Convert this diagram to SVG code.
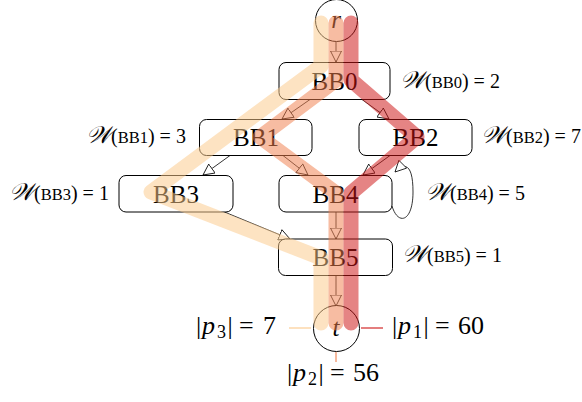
<svg xmlns="http://www.w3.org/2000/svg" width="582" height="402" viewBox="0 0 582 402">
<style>
.node{fill:#fff;stroke:#000;stroke-width:1}
.nt{font-family:"Liberation Serif","DejaVu Serif",serif;font-size:25px;text-anchor:middle;fill:#000}
.it{font-style:italic}
.edge{fill:none;stroke:#000;stroke-width:0.8;marker-end:url(#ah)}
.lab{font-family:"Liberation Serif","DejaVu Serif",serif;font-size:20px;fill:#000}
.sc{font-size:16.5px}
.w{font-size:24px;font-style:italic}
.band{fill:none;stroke-width:15;stroke-linecap:round;stroke-linejoin:round;opacity:0.52}
.p3{stroke:#fbc98b}
.p2{stroke:#ef7f4d}
.p1{stroke:#cd1414}
.stub{stroke-width:2;opacity:0.55;fill:none}
.pl{font-family:"Liberation Serif","DejaVu Serif",serif;font-size:26px;fill:#000}
.sub{font-size:18px}
</style>
<defs>
<marker id="ah" viewBox="0 0 12 12" refX="11.5" refY="6" markerWidth="12" markerHeight="12" markerUnits="userSpaceOnUse" orient="auto">
<path d="M0.5,0.5 L11.5,6 L0.5,11.5 Z" fill="#fff" stroke="#000" stroke-width="0.8"/>
</marker>
</defs>
<g id="connectors">
<path class="edge" d="M336,42 L336,62"/>
<path class="edge" d="M310,99.5 L282,119"/>
<path class="edge" d="M362,99.5 L389,119"/>
<path class="edge" d="M230,155.5 L203,175"/>
<path class="edge" d="M283,155.5 L308,175"/>
<path class="edge" d="M390,155.5 L363,175"/>
<path class="edge" d="M222,211 L290,239"/>
<path class="edge" d="M336,212 L336,239"/>
<path class="edge" d="M336,275.5 L336,306"/>
<path class="edge" d="M392,206 C398,226 413,222 413,192 C413,166 406,161 395,172"/>
</g>
<g id="r"><circle class="node" cx="336.5" cy="20.5" r="21"/><text class="nt it" x="336" y="28">r</text></g>
<g id="BB0"><rect class="node" x="279" y="62.5" width="111" height="37" rx="7"/><text class="nt" x="334.5" y="89.5">BB0</text></g>
<g id="BB1"><rect class="node" x="199.5" y="119.5" width="112.5" height="36" rx="7"/><text class="nt" x="256" y="146">BB1</text></g>
<g id="BB2"><rect class="node" x="359" y="119.5" width="113" height="36" rx="7"/><text class="nt" x="415.5" y="146">BB2</text></g>
<g id="BB3"><rect class="node" x="119" y="175.5" width="114" height="36.5" rx="7"/><text class="nt" x="176" y="202.5">BB3</text></g>
<g id="BB4"><rect class="node" x="279" y="175.5" width="113" height="36.5" rx="7"/><text class="nt" x="335.5" y="202.5">BB4</text></g>
<g id="BB5"><rect class="node" x="278.5" y="239" width="114" height="36.5" rx="7"/><text class="nt" x="335.5" y="266">BB5</text></g>
<g id="t"><circle class="node" cx="336.5" cy="328.5" r="23"/><text class="nt it" x="336" y="336">t</text></g>
<g id="weights">
<text class="lab" x="400" y="88"><tspan class="w">𝒲</tspan>(<tspan class="sc">BB0</tspan>) = 2</text>
<text class="lab" x="86" y="143"><tspan class="w">𝒲</tspan>(<tspan class="sc">BB1</tspan>) = 3</text>
<text class="lab" x="481" y="143"><tspan class="w">𝒲</tspan>(<tspan class="sc">BB2</tspan>) = 7</text>
<text class="lab" x="9" y="199.5"><tspan class="w">𝒲</tspan>(<tspan class="sc">BB3</tspan>) = 1</text>
<text class="lab" x="425" y="200"><tspan class="w">𝒲</tspan>(<tspan class="sc">BB4</tspan>) = 5</text>
<text class="lab" x="402" y="262"><tspan class="w">𝒲</tspan>(<tspan class="sc">BB5</tspan>) = 1</text>
</g>
<g id="paths">
<path class="band p3" d="M321,23 L321,66 L151,192 L321,258 L321,323"/>
<path class="band p2" d="M336,23 L336,80 L260,137 L336,193 L336,323"/>
<path class="band p1" d="M351,23 L351,80 L417,137 L351,193 L351,323"/>
<path class="stub p3" d="M289,328 L311,328"/>
<path class="stub p1" d="M361,328 L383,328"/>
<path class="stub p2" d="M336,352 L336,362"/>
</g>
<g id="path-labels">
<text class="pl" y="334"><tspan x="196">|</tspan><tspan x="202" class="it">p</tspan><tspan x="217" dy="4" class="sub">3</tspan><tspan x="227.5" dy="-4">|</tspan><tspan x="239">=</tspan><tspan x="263">7</tspan></text>
<text class="pl" y="334"><tspan x="392">|</tspan><tspan x="398" class="it">p</tspan><tspan x="413" dy="4" class="sub">1</tspan><tspan x="423.5" dy="-4">|</tspan><tspan x="435">=</tspan><tspan x="458">60</tspan></text>
<text class="pl" y="381"><tspan x="287">|</tspan><tspan x="293" class="it">p</tspan><tspan x="308" dy="4" class="sub">2</tspan><tspan x="318.5" dy="-4">|</tspan><tspan x="330">=</tspan><tspan x="353">56</tspan></text>
</g>
</svg>
